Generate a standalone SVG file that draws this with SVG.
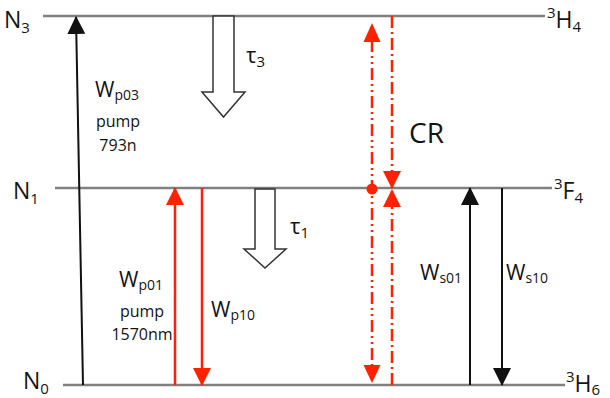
<svg xmlns="http://www.w3.org/2000/svg" width="610" height="398" viewBox="0 0 610 398">
<style>
.lvl{stroke:#808080;stroke-width:2.5;fill:none}
.blk{stroke:#111;stroke-width:2;fill:none}
.red{stroke:#ff2200;stroke-width:2.5;fill:none}
.cr1{stroke:#ff2200;stroke-width:2.5;fill:none;stroke-dasharray:12 4 2 4 2 4}
.cr2{stroke:#ff2200;stroke-width:2.5;fill:none;stroke-dasharray:12 4 2 4}
.hollow{fill:#fff;stroke:#333;stroke-width:1.5}
text{font-family:"Open Sans","Liberation Sans",sans-serif;fill:#141414}
.big{font-size:23px}
.sub{font-size:15px}
.w{font-size:21px}
.ws{font-size:14px}
.sm{font-size:16px}
</style>
<defs>
<marker id="ab" markerUnits="userSpaceOnUse" markerWidth="18" markerHeight="18" viewBox="0 0 18 18" refX="17" refY="9" orient="auto"><path d="M0,0 L18,9 L0,18 Z" fill="#111"/></marker>
<marker id="ar" markerUnits="userSpaceOnUse" markerWidth="18" markerHeight="18" viewBox="0 0 18 18" refX="17" refY="9" orient="auto"><path d="M0,0 L18,9 L0,18 Z" fill="#ff2200"/></marker>
</defs>

<g id="levels">
<line class="lvl" x1="43" y1="16" x2="545" y2="16"/>
<line class="lvl" x1="55" y1="188" x2="552" y2="188"/>
<line class="lvl" x1="63" y1="385" x2="565" y2="385"/>
</g>

<g id="level-labels">
<text x="4" y="28"><tspan class="big">N</tspan><tspan class="sub" dy="5">3</tspan></text>
<text x="13" y="199"><tspan class="big">N</tspan><tspan class="sub" dy="5">1</tspan></text>
<text x="23" y="389"><tspan class="big">N</tspan><tspan class="sub" dy="5">0</tspan></text>
<text x="547" y="28"><tspan class="sub" dy="-10">3</tspan><tspan class="big" dy="10">H</tspan><tspan class="sub" dy="4">4</tspan></text>
<text x="554" y="199"><tspan class="sub" dy="-10">3</tspan><tspan class="big" dy="10">F</tspan><tspan class="sub" dy="4">4</tspan></text>
<text x="566" y="392"><tspan class="sub" dy="-10">3</tspan><tspan class="big" dy="10">H</tspan><tspan class="sub" dy="3">6</tspan></text>
</g>

<g id="tau3">
<polygon class="hollow" points="213,16 234,16 234,92 245,92 223.5,117 202,92 213,92"/>
<text x="246" y="63"><tspan style="font-size:22px">τ</tspan><tspan class="sub" dy="4">3</tspan></text>
</g>
<g id="tau1">
<polygon class="hollow" points="255,189 275,189 275,249 286,249 265,268 244,249 255,249"/>
<text x="290" y="234"><tspan style="font-size:22px">τ</tspan><tspan class="sub" dy="4">1</tspan></text>
</g>

<g id="connectors">
<line class="blk" x1="83" y1="385" x2="76" y2="17" marker-end="url(#ab)"/>
<line class="red" x1="175" y1="385" x2="175" y2="188" marker-end="url(#ar)"/>
<line class="red" x1="202" y1="188" x2="202" y2="385" marker-end="url(#ar)"/>
<line class="blk" x1="470" y1="385" x2="470" y2="188" marker-end="url(#ab)"/>
<line class="blk" x1="502" y1="188" x2="502" y2="385" marker-end="url(#ab)"/>
<line class="cr1" x1="372" y1="40" x2="372" y2="368"/>
<polygon points="372,23 363.5,42 380.5,42" fill="#ff2200"/>
<polygon points="372,383 363.5,365 380.5,365" fill="#ff2200"/>
<circle cx="372" cy="189" r="5.5" fill="#ff2200"/>
<line class="cr2" x1="392" y1="16" x2="392" y2="188" marker-end="url(#ar)"/>
<line class="cr2" x1="392" y1="385" x2="392" y2="190" marker-end="url(#ar)"/>
</g>

<g id="labels">
<text x="95" y="97"><tspan class="w">W</tspan><tspan class="ws" dy="3">p03</tspan></text>
<text x="118" y="127" class="sm" text-anchor="middle">pump</text>
<text x="118" y="151" class="sm" text-anchor="middle">793n</text>
<text x="119" y="287"><tspan class="w">W</tspan><tspan class="ws" dy="3">p01</tspan></text>
<text x="142" y="317" class="sm" text-anchor="middle">pump</text>
<text x="142" y="340" class="sm" text-anchor="middle">1570nm</text>
<text x="211" y="317"><tspan class="w">W</tspan><tspan class="ws" dy="3">p10</tspan></text>
<text x="420" y="280"><tspan class="w">W</tspan><tspan class="ws" dy="3">s01</tspan></text>
<text x="506" y="280"><tspan class="w">W</tspan><tspan class="ws" dy="3">s10</tspan></text>
<text x="409" y="143" style="font-size:28px">CR</text>
</g>
</svg>
